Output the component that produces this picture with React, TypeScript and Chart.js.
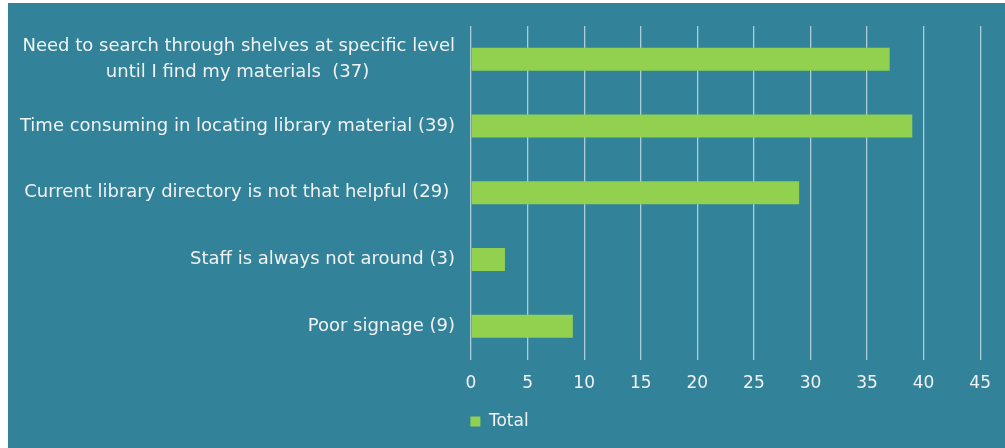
import React, { useEffect, useRef } from "react";
import { Chart, registerables } from "chart.js";

Chart.register(...registerables);

const categories: (string | string[])[] = [
  ["Need to search through shelves at specific level", "until I find my materials  (37)               "],
  "Time consuming in locating library material (39)",
  "Current library directory is not that helpful (29) ",
  "Staff is always not around (3)",
  "Poor signage (9)",
];
const totals = [37, 39, 29, 3, 9];
const seriesName = "Total";
const xMin = 0;
const xMax = 45;
const xStep = 5;

const BG = "#32839A";
const BAR = "#92D050";
const TEXT = "#F2F2F2";
const FONT = "'DejaVu Sans', sans-serif";

export default function App() {
  const ref = useRef<HTMLCanvasElement>(null);
  useEffect(() => {
    if (!ref.current) return;
    const chart = new Chart(ref.current, {
      type: "bar",
      data: {
        labels: categories,
        datasets: [
          {
            label: seriesName,
            data: totals,
            backgroundColor: BAR,
            borderWidth: 0,
            categoryPercentage: 1,
            barPercentage: 0.345,
          },
        ],
      },
      options: {
        indexAxis: "y",
        animation: false,
        responsive: true,
        maintainAspectRatio: false,
        layout: { padding: { top: 23, right: 14, left: 0, bottom: 8 } },
        plugins: {
          legend: {
            position: "bottom",
            labels: {
              color: TEXT,
              font: { family: FONT, size: 17 },
              boxWidth: 10,
              boxHeight: 10,
              padding: 5,
            },
          },
          tooltip: { enabled: false },
        },
        scales: {
          x: {
            min: xMin,
            max: xMax,
            ticks: {
              stepSize: xStep,
              color: TEXT,
              font: { family: FONT, size: 17 },
              padding: 14,
            },
            grid: { color: "rgba(255,255,255,0.6)", lineWidth: 1.3, drawTicks: false },
            border: { display: false },
          },
          y: {
            afterFit: (s: any) => {
              s.width = 463;
              s.paddingTop = 0;
              s.paddingBottom = 0;
            },
            ticks: {
              color: TEXT,
              font: { family: FONT, size: 18, lineHeight: 1.4 },
              padding: 16,
            },
            grid: { display: false, drawTicks: false },
            border: { display: false },
          },
        },
      },
    });
    return () => chart.destroy();
  }, []);
  return (
    <div
      style={{
        position: "absolute",
        left: 8,
        top: 3,
        width: 997,
        height: 445,
        background: BG,
      }}
    >
      <canvas ref={ref} />
    </div>
  );
}
